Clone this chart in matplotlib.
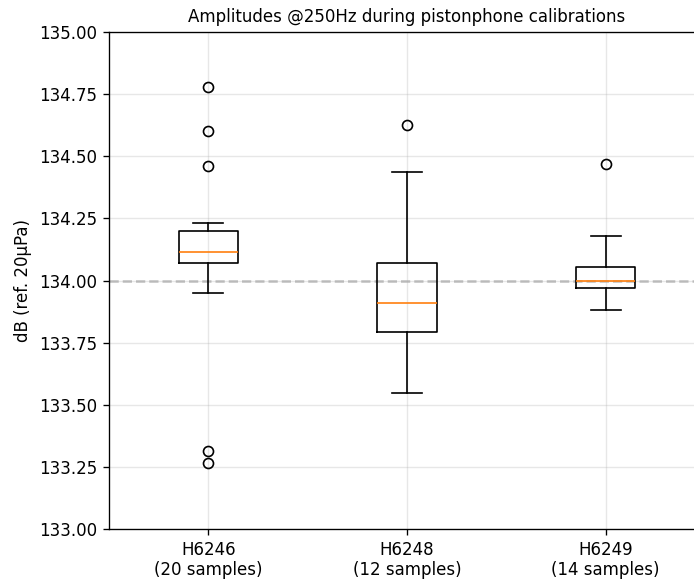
import matplotlib
matplotlib.use("Agg")
import matplotlib.pyplot as plt
import numpy as np

labels = ["H6246\n(20 samples)", "H6248\n(12 samples)", "H6249\n(14 samples)"]
q1 = [134.072, 133.794, 133.969]
med = [134.113, 133.911, 133.998]
q3 = [134.200, 134.069, 134.054]
whislo = [133.948, 133.548, 133.880]
whishi = [134.230, 134.435, 134.180]
fliers = [[134.78, 134.60, 134.46, 133.315, 133.267], [134.624], [134.468]]
reference = 134.0

DPI = 120
fig = plt.figure(figsize=(694 / DPI, 579 / DPI), dpi=DPI)
ax = fig.add_axes([109/694, 1 - 529/579, (705 - 109)/694, (529 - 32)/579])

stats = []
for i in range(3):
    stats.append(dict(label=labels[i], q1=q1[i], med=med[i], q3=q3[i],
                      whislo=whislo[i], whishi=whishi[i], fliers=fliers[i]))
ax.bxp(stats, positions=[1, 2, 3], widths=0.3)
ax.axhline(reference, color="gray", linestyle="--", alpha=0.5, zorder=0)
ax.grid(True, alpha=0.3)
ax.set_axisbelow(True)
ax.set_xlim(0.5, 3.5)
ax.set_ylim(133.0, 135.0)
yt = np.arange(133.0, 135.01, 0.25)
ax.set_yticks(yt)
ax.set_yticklabels([f"{v:.2f}" for v in yt])
ax.set_ylabel("dB (ref. 20µPa)")
ax.set_title("Amplitudes @250Hz during pistonphone calibrations", fontsize=10)

fig.savefig("out.png", dpi=DPI)
